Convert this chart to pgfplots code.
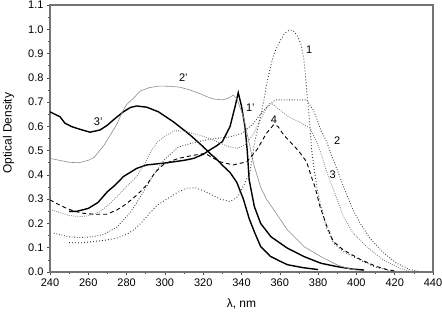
\documentclass[border=0pt]{standalone}
\usepackage{fontspec}
\setmainfont{Liberation Sans}
\usepackage{pgfplots}
\pgfplotsset{compat=1.18}
\begin{document}
\begin{tikzpicture}[x=1pt,y=1pt]
\path[use as bounding box] (0,0) rectangle (442,311);
\begin{axis}[
  at={(50pt,39pt)}, anchor=south west,
  scale only axis, width=383pt, height=267pt,
  xmin=240, xmax=440, ymin=0, ymax=1.1,
  xtick={240,260,...,440}, ytick={0,0.1,...,1.1},
  minor x tick num=1, minor y tick num=1,
  xtick pos=bottom, ytick pos=left,
  tick align=outside,
  major tick length=3pt, minor tick length=2pt,
  axis line style={black!55, line width=1.1pt},
  every tick/.style={black!70, line width=0.6pt},
  /pgf/number format/assume math mode=true,
  yticklabel style={/pgf/number format/fixed, /pgf/number format/fixed zerofill, /pgf/number format/precision=1, font=\fontsize{11}{12}\selectfont},
  xticklabel style={font=\fontsize{11}{12}\selectfont},
  scaled y ticks=false,
  xlabel={λ, nm}, ylabel={Optical Density},
  xlabel style={at={(axis description cs:0.5,-0.118)}, anchor=center, font=\fontsize{12}{14}\selectfont},
  ylabel style={at={(axis description cs:-0.108,0.52)}, anchor=center, font=\fontsize{12}{14}\selectfont},
  clip=true,
]
% 3' thick solid
\addplot[black, line width=1.4pt] coordinates {
(240,0.66)(243,0.648)(245.2,0.64)(247.8,0.613)(251.3,0.599)(256,0.587)(260.9,0.576)(266.1,0.585)(270,0.605)(273,0.626)(278.3,0.66)(282,0.678)(285.3,0.684)(290.5,0.679)(296.6,0.66)(304.4,0.619)(313.1,0.565)(320,0.516)(324,0.485)(327,0.465)(330,0.44)(334,0.41)(337.5,0.37)(341,0.30)(344,0.22)(347,0.16)(350,0.105)(355,0.065)(360,0.045)(364,0.03)(372,0.018)(380,0.01)
};
% 1' thick solid
\addplot[black, line width=1.4pt] coordinates {
(250,0.25)(254,0.25)(260,0.262)(265,0.286)(270,0.331)(274,0.358)(278.3,0.393)(285.3,0.427)(290.5,0.441)(301,0.45)(310,0.46)(315,0.468)(320,0.485)(323.5,0.503)(327,0.52)(330,0.537)(334,0.599)(336.6,0.68)(338.3,0.739)(340.1,0.68)(341.8,0.599)(343,0.50)(344,0.38)(346.7,0.27)(350,0.20)(355.4,0.145)(364,0.098)(372.8,0.063)(381.5,0.036)(390,0.022)(398,0.012)(404,0.008)
};
% 2' thin grey solid
\addplot[black!45, line width=0.6pt] coordinates {
(240,0.468)(245,0.46)(250,0.452)(255,0.45)(260,0.46)(263,0.472)(268,0.52)(272,0.571)(275,0.61)(277.4,0.654)(280,0.69)(283.5,0.715)(287,0.745)(292,0.76)(297,0.766)(303,0.765)(308,0.761)(313,0.75)(318,0.736)(322,0.722)(325.3,0.713)(330,0.709)(333,0.715)(335.7,0.729)(337.5,0.715)(341,0.64)(343.5,0.55)(346.5,0.44)(350,0.35)(353,0.30)(357,0.255)(364,0.173)(372.8,0.104)(381.5,0.063)(390,0.029)(395.5,0.015)(400,0.008)
};
% 1 dotted (peak 1.0)
\addplot[black!85, line width=0.9pt, dash pattern=on 0.8pt off 2.2pt] coordinates {
(250,0.121)(256,0.12)(262,0.125)(268,0.13)(275,0.14)(280,0.155)(284,0.175)(288,0.205)(292,0.242)(296,0.275)(301,0.30)(306,0.325)(311,0.345)(316,0.347)(320,0.335)(324,0.32)(329,0.30)(334,0.29)(338,0.31)(341,0.355)(344.4,0.41)(347,0.54)(349,0.61)(350.5,0.66)(352,0.72)(353,0.77)(355,0.84)(357,0.90)(360,0.95)(362.5,0.983)(365,0.997)(367,0.995)(369,0.975)(371,0.94)(372.5,0.88)(373.5,0.80)(374.5,0.71)(375.5,0.63)(376.5,0.51)(378,0.42)(380,0.32)(381.5,0.27)(384.5,0.18)(388,0.12)(393,0.085)(402,0.049)(410,0.02)(419,0.002)
};
% 2 dotted (flat top)
\addplot[black!75, line width=0.9pt, dash pattern=on 0.8pt off 1.8pt] coordinates {
(242,0.16)(250,0.145)(256,0.142)(262,0.145)(268,0.155)(275,0.185)(282,0.245)(288,0.32)(294,0.40)(300,0.465)(307,0.515)(317,0.537)(326,0.55)(333,0.555)(340,0.57)(346,0.61)(351,0.66)(355,0.695)(358,0.709)(374,0.709)(377.5,0.667)(379.2,0.633)(381.8,0.578)(384.5,0.537)(387,0.48)(389.7,0.427)(392.3,0.372)(395,0.317)(398,0.26)(402,0.2)(407,0.14)(414,0.08)(421,0.036)(428,0.01)(432,0.003)
};
% 3 grey dotted
\addplot[black!50, line width=0.9pt, dash pattern=on 0.8pt off 1.4pt] coordinates {
(240,0.258)(245,0.245)(250,0.233)(255,0.228)(260,0.232)(266,0.248)(271,0.28)(276.6,0.324)(281,0.36)(285.3,0.393)(289,0.44)(292.2,0.489)(296,0.535)(300,0.56)(305,0.582)(310,0.58)(318,0.564)(324,0.548)(329,0.53)(334,0.515)(338,0.51)(342,0.525)(346,0.565)(350,0.63)(353,0.675)(355.7,0.695)(360,0.668)(364.4,0.641)(371.4,0.613)(375.8,0.592)(379.2,0.537)(381.8,0.482)(384.5,0.413)(387.1,0.358)(389.7,0.304)(393.2,0.228)(398.4,0.159)(405.4,0.104)(414.1,0.049)(422.8,0.015)(428,0.003)
};
% 4 dashed
\addplot[black, line width=0.9pt, dash pattern=on 4pt off 3pt] coordinates {
(240,0.297)(244,0.28)(248.7,0.262)(253,0.25)(257.4,0.242)(263,0.238)(269.6,0.238)(274.8,0.255)(279,0.276)(283.5,0.304)(287,0.33)(290.5,0.358)(294.8,0.41)(299,0.441)(303,0.456)(307,0.468)(313,0.478)(321,0.489)(325,0.47)(328.8,0.454)(335.7,0.441)(342.7,0.454)(348,0.503)(353,0.571)(356.7,0.606)(359,0.60)(362,0.565)(365.3,0.537)(369.7,0.50)(374,0.454)(376.6,0.39)(378.4,0.35)(381,0.27)(384.5,0.19)(388,0.125)(393,0.092)(402,0.052)(410,0.024)(416,0.01)(421,0.003)
};
\node[font=\fontsize{11}{12}\selectfont] at (axis cs:375.4,0.917) {1};
\node[font=\fontsize{11}{12}\selectfont] at (axis cs:390,0.54) {2};
\node[font=\fontsize{11}{12}\selectfont] at (axis cs:387.6,0.40) {3};
\node[font=\fontsize{11}{12}\selectfont] at (axis cs:357,0.626) {4};
\node[font=\fontsize{11}{12}\selectfont] at (axis cs:344.6,0.678) {1'};
\node[font=\fontsize{11}{12}\selectfont] at (axis cs:309.6,0.80) {2'};
\node[font=\fontsize{11}{12}\selectfont] at (axis cs:265.2,0.62) {3'};
\end{axis}
\end{tikzpicture}
\end{document}
